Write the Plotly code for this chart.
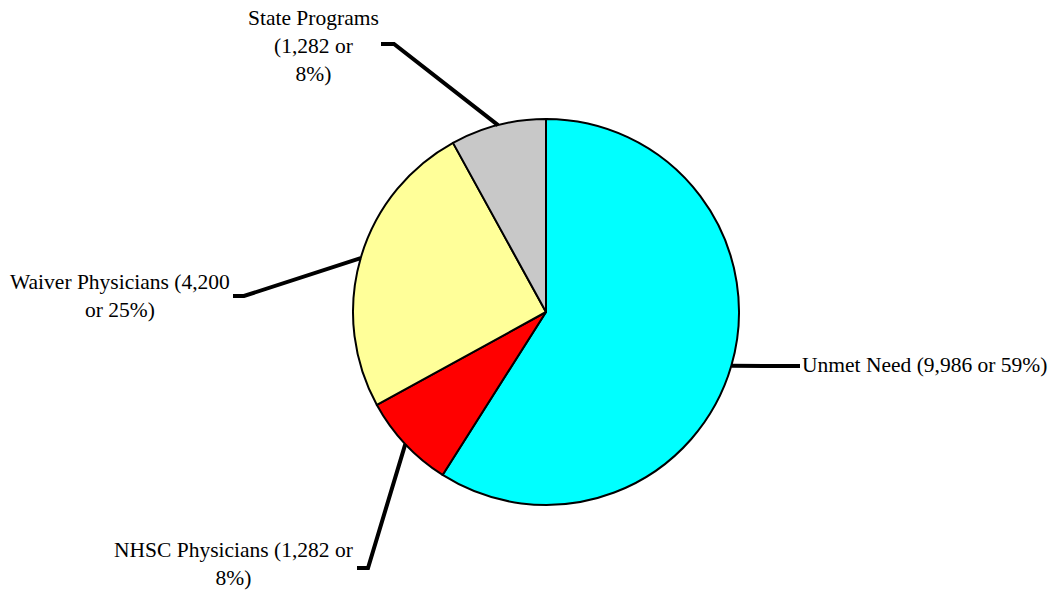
import math
import plotly.graph_objects as go

labels = ["Unmet Need", "NHSC Physicians", "Waiver Physicians", "State Programs"]
counts = [9986, 1282, 4200, 1282]
percents = [59, 8, 25, 8]
colors = ["#00FFFF", "#FF0000", "#FFFF99", "#C8C8C8"]

W, H = 1050, 590
CX, CY, R = 546, 312, 193

def pxx(x):
    return x / W

def pxy(y):
    return 1 - y / H

fig = go.Figure(go.Pie(
    labels=labels, values=percents, customdata=counts, sort=False,
    direction="clockwise", rotation=0,
    marker=dict(colors=colors, line=dict(color="black", width=2)),
    textinfo="none", hovertemplate="%{label}: %{customdata:,} (%{value}%)<extra></extra>",
    domain=dict(x=[pxx(CX - R), pxx(CX + R)], y=[pxy(CY + R), pxy(CY - R)]),
    showlegend=False,
))

total = sum(percents)
mids = []
cum = 0
for v in percents:
    mids.append((cum + v / 2) / total * 360)
    cum += v

label_texts = [
    f"{labels[0]} ({counts[0]:,} or {percents[0]}%)",
    f"{labels[1]} ({counts[1]:,} or<br>{percents[1]}%)",
    f"{labels[2]} ({counts[2]:,}<br>or {percents[2]}%)",
    f"{labels[3]}<br>({counts[3]:,} or<br>{percents[3]}%)",
]
# leader-line layout (pixels): elbow, end, label anchor
elbows = [(800, 366), (368, 568), (244, 296), (394, 44)]
ends = [(800, 366), (357, 568), (233, 296), (381, 44)]
label_pos = [(800, 365, "left"), (233, 564, "center"), (120, 296, "center"), (313, 46, "center")]

shapes = []
annotations = []
for i in range(4):
    a = math.radians(mids[i])
    sx = CX + R * math.sin(a)
    sy = CY - R * math.cos(a)
    ex, ey = elbows[i]
    fx, fy = ends[i]
    path = f"M {pxx(sx)},{pxy(sy)} L {pxx(ex)},{pxy(ey)} L {pxx(fx)},{pxy(fy)}"
    shapes.append(dict(type="path", xref="paper", yref="paper", path=path,
                       line=dict(color="black", width=4)))
    lx, ly, anc = label_pos[i]
    annotations.append(dict(
        x=pxx(lx), y=pxy(ly), xref="paper", yref="paper", text=label_texts[i],
        showarrow=False, xanchor=anc, yanchor="middle", align="center",
        font=dict(family="Liberation Serif, Times New Roman, serif", size=21.5, color="black"),
    ))

fig.update_layout(
    width=W, height=H, margin=dict(l=0, r=0, t=0, b=0),
    paper_bgcolor="white", plot_bgcolor="white",
    shapes=shapes, annotations=annotations,
)

fig.write_html("out.html")
